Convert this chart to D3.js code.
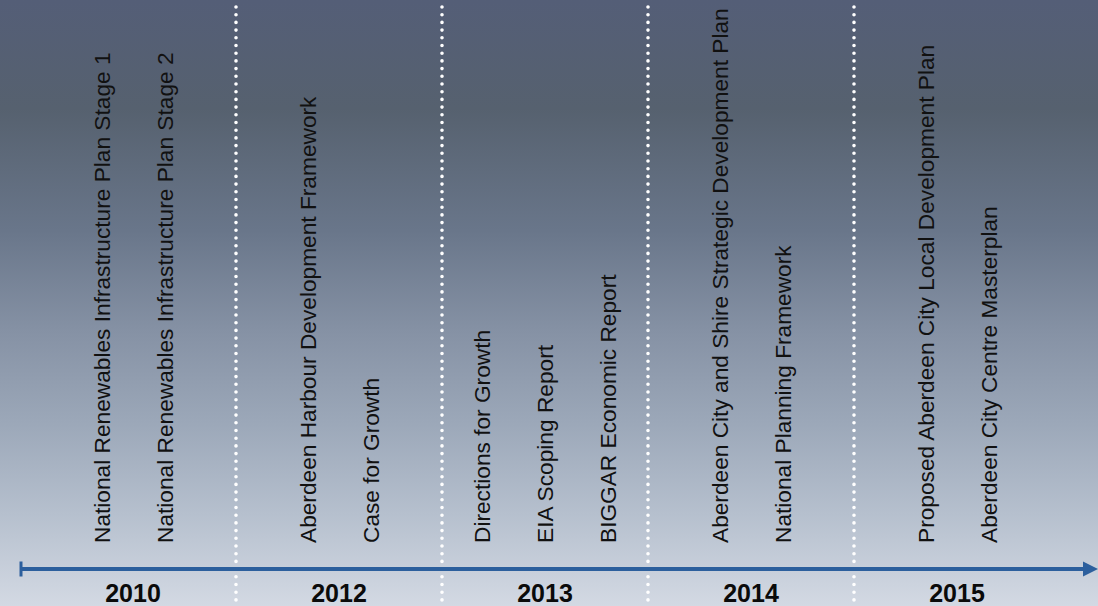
<!DOCTYPE html>
<html>
<head>
<meta charset="utf-8">
<script src="https://cdn.jsdelivr.net/npm/d3@7"></script>
<style>
  html, body { margin: 0; padding: 0; overflow: hidden; }
  svg { display: block; }
</style>
</head>
<body>
<script>
var width = 1098, height = 606;

// timeline data
var years = ["2010", "2012", "2013", "2014", "2015"];
var docs2010 = ["National Renewables Infrastructure Plan Stage 1", "National Renewables Infrastructure Plan Stage 2"];
var docs2012 = ["Aberdeen Harbour Development Framework", "Case for Growth"];
var docs2013 = ["Directions for Growth", "EIA Scoping Report", "BIGGAR Economic Report"];
var docs2014 = ["Aberdeen City and Shire Strategic Development Plan", "National Planning Framework"];
var docs2015 = ["Proposed Aberdeen City Local Development Plan", "Aberdeen City Centre Masterplan"];
var docsByYear = [docs2010, docs2012, docs2013, docs2014, docs2015];

var axisY = 569;
var labelBottom = 543;
var itemGap = 63;
var axisColor = "#2c5f9d";

var svg = d3.select("body").append("svg")
    .attr("width", width)
    .attr("height", height);

var defs = svg.append("defs");
var grad = defs.append("linearGradient")
    .attr("id", "bg")
    .attr("x1", 0).attr("y1", 0)
    .attr("x2", 0).attr("y2", 1);
[[0, "#545e77"], [0.18, "#56616f"], [0.38, "#69768a"], [0.55, "#8692a5"],
 [0.7, "#9ca8b9"], [0.85, "#b6c0ce"], [1, "#d3d9e3"]].forEach(function(s){
    grad.append("stop").attr("offset", s[0]).attr("stop-color", s[1]);
});

svg.append("rect")
    .attr("width", width)
    .attr("height", height)
    .attr("fill", "url(#bg)");

var x = d3.scaleBand()
    .domain(years)
    .range([30, 1060])
    .padding(0);

// dotted separators between years
svg.append("g")
    .selectAll("line")
    .data(years.slice(1))
    .join("line")
    .attr("x1", function(d){ return x(d); })
    .attr("x2", function(d){ return x(d); })
    .attr("y1", 7)
    .attr("y2", height)
    .attr("stroke", "white")
    .attr("stroke-width", 3.6)
    .attr("stroke-linecap", "round")
    .attr("stroke-dasharray", "0,7.7");

// rotated document labels
var labels = [];
years.forEach(function(y, yi){
    var docs = docsByYear[yi];
    docs.forEach(function(name, i){
        labels.push({year: y, name: name, i: i, n: docs.length});
    });
});

svg.append("g")
    .selectAll("text")
    .data(labels)
    .join("text")
    .attr("transform", function(d){
        var cx = x(d.year) + x.bandwidth() / 2 + (d.i - (d.n - 1) / 2) * itemGap;
        return "translate(" + cx + "," + labelBottom + ") rotate(-90)";
    })
    .attr("dy", "0.36em")
    .attr("font-family", "Liberation Sans, Arial, sans-serif")
    .attr("font-size", 22.7)
    .attr("fill", "#111")
    .text(function(d){ return d.name; });

// axis arrow
svg.append("line")
    .attr("x1", 20).attr("x2", 1085)
    .attr("y1", axisY).attr("y2", axisY)
    .attr("stroke", axisColor)
    .attr("stroke-width", 3.8);
svg.append("line")
    .attr("x1", 21).attr("x2", 21)
    .attr("y1", axisY - 7.5).attr("y2", axisY + 7.5)
    .attr("stroke", axisColor)
    .attr("stroke-width", 3);
svg.append("path")
    .attr("d", d3.line()([[1083, axisY - 7.5], [1098, axisY], [1083, axisY + 7.5]]) + "Z")
    .attr("fill", axisColor);

// year labels
svg.append("g")
    .selectAll("text")
    .data(years)
    .join("text")
    .attr("x", function(d){ return x(d) + x.bandwidth() / 2; })
    .attr("y", 602)
    .attr("text-anchor", "middle")
    .attr("font-family", "Liberation Sans, Arial, sans-serif")
    .attr("font-weight", "bold")
    .attr("font-size", 25)
    .attr("fill", "#0a0a0a")
    .text(function(d){ return d; });
</script>
</body>
</html>
